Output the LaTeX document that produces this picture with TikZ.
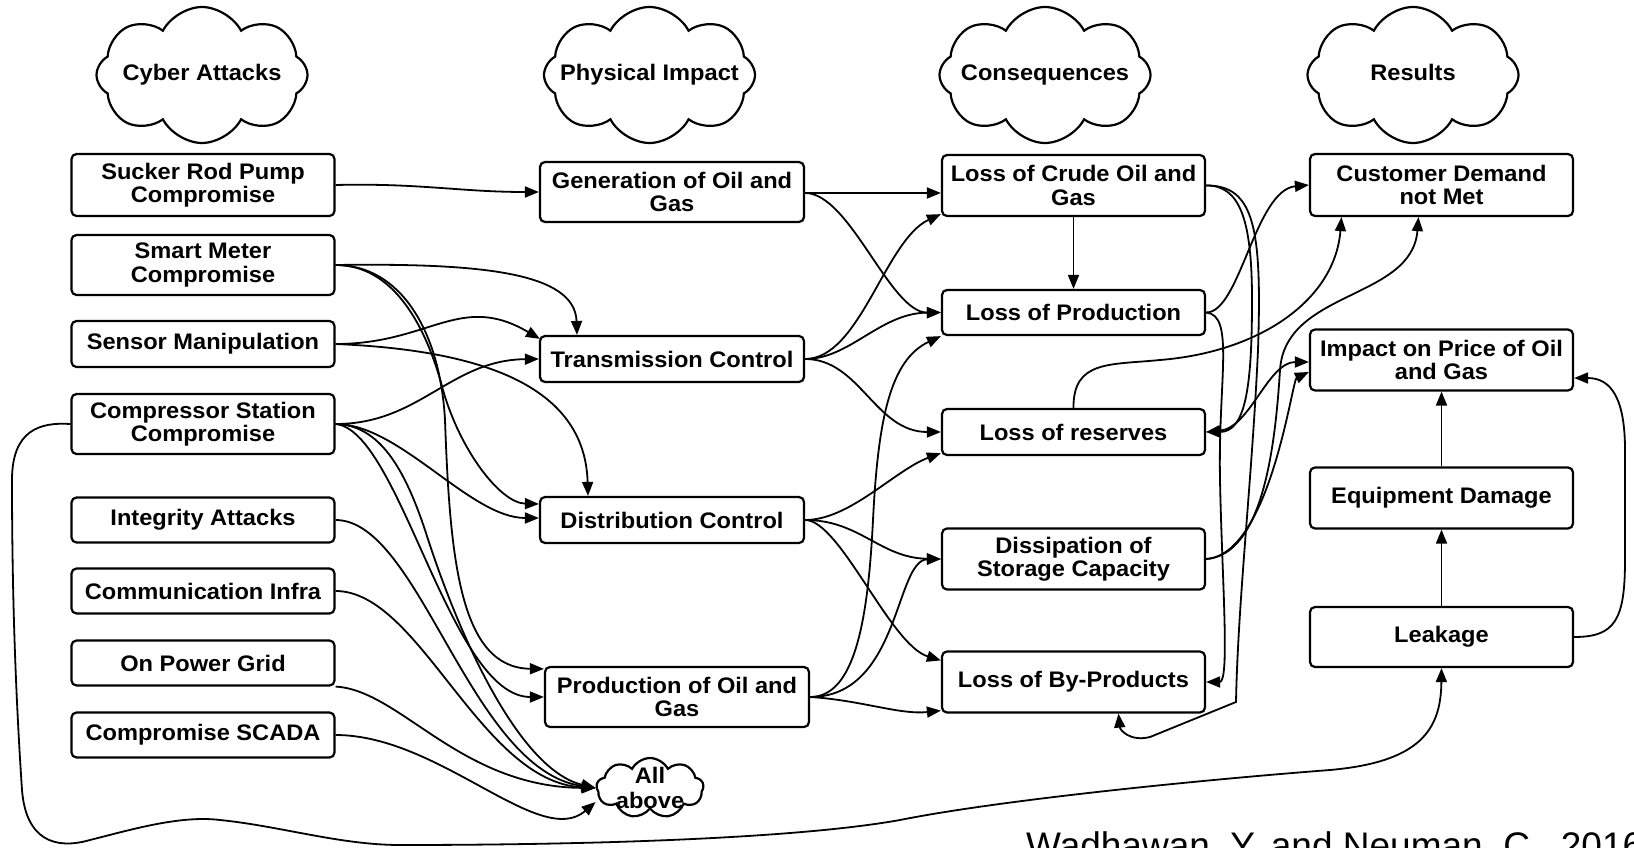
\documentclass[tikz,border=0pt]{standalone}
\usepackage{fontspec}
\setmainfont{Liberation Sans}
\newfontfamily\boxfont[FakeStretch=1.05]{Liberation Sans}
\usetikzlibrary{arrows.meta,shapes.symbols,calc}

\begin{document}
\begin{tikzpicture}[x=1pt,y=-1pt,
  box/.style={draw, line width=2.2pt, rounded corners=5pt, minimum width=263pt,
    align=center, inner sep=2pt,
    font=\boxfont\bfseries\fontsize{22.5}{23.5}\selectfont},
  puff/.style={cloud, draw, line width=2.2pt, cloud puffs=8, cloud puff arc=125,
    cloud ignores aspect, minimum width=211pt, minimum height=136pt, inner sep=0pt},
  cloudtext/.style={align=center, inner sep=0pt,
    font=\boxfont\bfseries\fontsize{22.5}{25}\selectfont},
  headtext/.style={cloudtext, text height=16pt, text depth=5pt},
  tip/.tip={Triangle[length=14pt,width=11pt]},
  link/.style={line width=1.8pt, -tip},
  twoway/.style={line width=1.8pt, tip-tip}
]
\useasboundingbox (0,0) rectangle (1634,848);
\clip (0,0) rectangle (1634,848);
\fill[white] (0,0) rectangle (1634,848);

% ---- column headings
\node[puff, label={[headtext]center:Cyber Attacks}] (hcyber) at (202,75) {};
\node[puff, label={[headtext]center:Physical Impact}] (hphys) at (649.5,75) {};
\node[puff, label={[headtext]center:Consequences}] (hcons) at (1045,75) {};
\node[puff, label={[headtext]center:Results}] (hres) at (1413,75) {};

% ---- cyber attacks
\node[box, minimum height=62pt] (srp) at (203,185) {Sucker Rod Pump\\Compromise};
\node[box, minimum height=60pt] (sm) at (203,265) {Smart Meter\\Compromise};
\node[box, minimum height=46pt] (sens) at (203,344) {Sensor Manipulation};
\node[box, minimum height=60pt] (cs) at (203,424) {Compressor Station\\Compromise};
\node[box, minimum height=45pt] (integ) at (203,520) {Integrity Attacks};
\node[box, minimum height=45pt] (comm) at (203,591) {Communication Infra};
\node[box, minimum height=45pt] (grid) at (203,663) {On Power Grid};
\node[box, minimum height=45pt] (scada) at (203,735) {Compromise SCADA};

% ---- physical impact
\node[box, minimum width=264pt, minimum height=60pt] (gen) at (672,192) {Generation of Oil and\\Gas};
\node[box, minimum width=264pt, minimum height=46pt] (trans) at (672,359) {Transmission Control};
\node[box, minimum width=264pt, minimum height=46pt] (dist) at (672,520) {Distribution Control};
\node[box, minimum width=264pt, minimum height=60pt] (prod) at (677,697) {Production of Oil and\\Gas};
\node[puff, cloud puffs=9, minimum width=107pt, minimum height=60pt,
      label={[cloudtext]center:All\\above}] (all) at (650,788) {};

% ---- consequences
\node[box, minimum height=61pt] (crude) at (1073.5,185.5) {Loss of Crude Oil and\\Gas};
\node[box, minimum height=45pt] (lprod) at (1073.5,312.5) {Loss of Production};
\node[box, minimum height=46pt] (resv) at (1073.5,432) {Loss of reserves};
\node[box, minimum height=61pt] (dissip) at (1073.5,559) {Dissipation of\\Storage Capacity};
\node[box, minimum height=61pt] (byp) at (1073.5,682) {Loss of By-Products};

% ---- results
\node[box, minimum height=62pt] (demand) at (1441.5,185) {Customer Demand\\not Met};
\node[box, minimum height=61pt] (price) at (1441.5,360) {Impact on Price of Oil\\and Gas};
\node[box, minimum height=61pt] (equip) at (1441.5,498) {Equipment Damage};
\node[box, minimum height=60pt] (leak) at (1441.5,637) {Leakage};

\node[anchor=base west, inner sep=0pt, font=\fontsize{37}{40}\selectfont] (cite)
  at (1026,858) {Wadhawan, Y. and Neuman, C., 2016};

% ---- cyber attacks -> physical impact
\draw[link] (srp.east) .. controls (420,183) and (460,192) .. (gen.west);
\draw[link] (sm.east) .. controls (480,263) and (575,272) .. ($(trans.north)+(-95,0)$);
\draw[link] (sm.east) .. controls (400,265) and (430,340) .. (443,390)
  .. controls (460,450) and (500,503) .. ($(dist.west)+(0,-16)$);
\draw[link] (sm.east) .. controls (400,265) and (440,330) .. (445,420)
  .. controls (450,560) and (460,668) .. ($(prod.north west)+(0,3)$);
\draw[link] (sens.east) .. controls (430,344) and (460,292) .. ($(trans.north west)+(1,4)$);
\draw[link] (sens.east) .. controls (480,350) and (585,385) .. ($(dist.north)+(-84,0)$);
\draw[link] (cs.east) .. controls (420,424) and (450,360) .. (trans.west);
\draw[link] (cs.east) .. controls (400,424) and (470,518) .. ($(dist.west)+(0,-2)$);
\draw[link] (cs.east) .. controls (400,430) and (450,697) .. (prod.west);
\draw[link] (cs.east) .. controls (380,425) and (405,470) .. (425,530)
  .. controls (460,640) and (520,770) .. (all.west);
\draw[link] (integ.east) .. controls (420,520) and (470,770) .. (all.west);
\draw[link] (comm.east) .. controls (420,591) and (480,782) .. (all.west);
\draw[link] (grid.south east) .. controls (400,690) and (460,787) .. (all.west);
\draw[link] (scada.east) .. controls (440,735) and (540,850) .. ($(all.west)+(0,14)$);

% ---- physical impact -> consequences
\draw[link] ($(gen.east)+(0,1)$) -- ($(crude.west)+(0,7.5)$);
\draw[link] ($(gen.east)+(0,1)$) .. controls (850,193) and (890,313) .. (lprod.west);
\draw[link] (trans.east) .. controls (860,359) and (885,240) .. ($(crude.south west)+(0,-3)$);
\draw[link] (trans.east) .. controls (850,359) and (880,313) .. (lprod.west);
\draw[link] (trans.east) .. controls (860,359) and (875,432) .. (resv.west);
\draw[link] (dist.east) .. controls (850,520) and (895,470) .. ($(resv.south west)+(0,-3)$);
\draw[link] (dist.east) .. controls (860,520) and (880,558) .. (dissip.west);
\draw[link] (dist.east) .. controls (840,520) and (890,645) .. ($(byp.north west)+(0,10)$);
\draw[link] (prod.east) .. controls (855,697) and (868,620) .. (873,520)
  .. controls (878,420) and (890,360) .. (lprod.south west);
\draw[link] (prod.east) .. controls (900,697) and (895,560) .. (dissip.west);
\draw[link] (prod.east) .. controls (860,700) and (900,715) .. ($(byp.south west)+(0,-3)$);

% ---- consequences -> results
\draw[link] (crude.south) -- (lprod.north);
\draw[link] (lprod.east) .. controls (1240,313) and (1255,190) .. (demand.west);
\draw[link] (resv.north) .. controls (1073,360) and (1110,365) .. (1160,360)
  .. controls (1260,352) and (1335,300) .. ($(demand.south)+(-100,0)$);
\draw[link] (dissip.east) .. controls (1262,555) and (1275,450) .. (1280,370)
  .. controls (1285,290) and (1412,300) .. ($(demand.south)+(-23,0)$);
\draw[link] (dissip.east) .. controls (1270,555) and (1292,380) .. ($(price.west)+(0,12)$);
\draw[twoway] (resv.east) .. controls (1250,428) and (1268,362) .. ($(price.west)+(0,2)$);
\draw[link] (crude.east) .. controls (1240,185) and (1252,220) .. (1252,300)
  .. controls (1252,390) and (1245,432) .. (resv.east);
\draw[link] (lprod.east) .. controls (1235,315) and (1218,380) .. (1220,480)
  .. controls (1222,580) and (1230,682) .. (byp.east);
\draw[link] (crude.east) .. controls (1255,185) and (1262,230) .. (1258,350)
  .. controls (1252,480) and (1238,600) .. (1236,702) -- (1150,737)
  .. controls (1130,742) and (1120,730) .. ($(byp.south)+(45,0)$);
\draw[link] (leak.north) -- (equip.south);
\draw[link] (equip.north) -- (price.south);
\draw[link] (leak.east) .. controls (1615,637) and (1625,620) .. (1625,560) -- (1625,450)
  .. controls (1625,400) and (1612,378) .. ($(price.east)+(0,18)$);
\draw[link] (cs.west) .. controls (40,422) and (12,430) .. (12,480)
  .. controls (12,600) and (16,700) .. (22,790)
  .. controls (26,840) and (55,850) .. (90,840)
  .. controls (130,830) and (180,815) .. (220,820)
  .. controls (280,826) and (340,845) .. (400,845)
  .. controls (600,845) and (800,838) .. (900,820)
  .. controls (1000,800) and (1200,780) .. (1330,770)
  .. controls (1420,762) and (1441,730) .. (leak.south);
\end{tikzpicture}
\end{document}
